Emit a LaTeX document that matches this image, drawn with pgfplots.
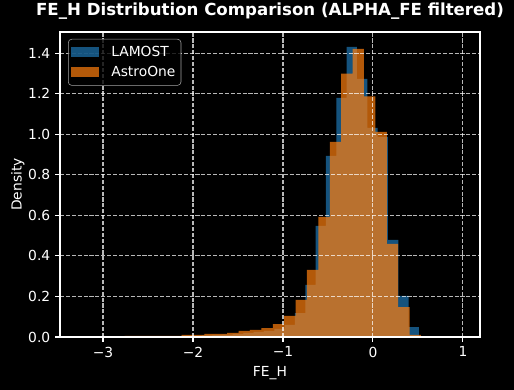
\documentclass[border=0pt]{standalone}
\usepackage{fontspec}
\setmainfont{DejaVu Sans}
\usepackage{pgfplots}
\pgfplotsset{compat=1.18}
\definecolor{C0}{RGB}{31,119,180}
\definecolor{C1}{RGB}{255,127,14}
\definecolor{legframe}{RGB}{204,204,204}
\begin{document}
\begin{tikzpicture}
\fill[black] (0bp,0bp) rectangle (370.08bp,280.8bp);
\path[use as bounding box] (0bp,0bp) rectangle (370.08bp,280.8bp);
\begin{axis}[
  at={(43.2bp,38.16bp)}, anchor=south west,
  scale only axis, width=302.4bp, height=219.6bp,
  xmin=-3.478, xmax=1.19, ymin=0, ymax=1.505,
  axis on top,
  axis line style={white, line width=0.8bp},
  tick style={white, line width=0.8bp},
  tick align=outside, major tick length=3.5bp,
  xtick pos=bottom, ytick pos=left,
  xtick={-3,-2,-1,0,1}, xticklabels={−3,−2,−1,0,1},
  ytick={0,0.2,0.4,0.6,0.8,1.0,1.2,1.4},
  yticklabels={0.0,0.2,0.4,0.6,0.8,1.0,1.2,1.4},
  ticklabel style={text=white, font=\fontsize{10}{12}\selectfont},
  grid=major,
  major grid style={white, opacity=0.72, line width=0.8bp, dash pattern=on 2.96bp off 1.28bp},
  title={\bfseries FE\_H Distribution Comparison (ALPHA\_FE filtered)},
  title style={at={(axis description cs:0.5,1)}, anchor=base, yshift=5.76bp, text=white, font=\fontsize{12}{14}\selectfont},
  xlabel={FE\_H},
  xlabel style={at={(axis description cs:0.5,0)}, anchor=base, yshift=-28.6bp, text=white, font=\fontsize{10}{12}\selectfont},
  ylabel={Density},
  ylabel style={at={(axis description cs:0,0.5)}, anchor=base, yshift=27.7bp, text=white, font=\fontsize{10}{12}\selectfont},
  legend style={at={(axis description cs:0,1)}, anchor=north west, xshift=5.76bp, yshift=-5bp,
    fill=black, fill opacity=0.8, draw opacity=0.8, text opacity=1, draw=legframe,
    rounded corners=2.5bp, text=white, font=\fontsize{10}{12}\selectfont,
    inner xsep=2bp, inner ysep=3bp, row sep=1.5bp},
  legend cell align=left,
  legend image code/.code={\path[#1, draw=none, sharp corners] (0bp,-3.5bp) rectangle (20bp,3.5bp);
    \path[draw=none, fill=none] (0bp,0bp) -- (27bp,0bp);},
]
% LAMOST
\addplot[const plot, fill=C0, fill opacity=0.7, draw=none] coordinates {
(-3.2774,0.0005) (-3.1626,0.0005) (-3.0478,0.0005) (-2.9330,0.001) (-2.8182,0.001)
(-2.7034,0.002) (-2.5886,0.002) (-2.4738,0.003) (-2.3590,0.003) (-2.2442,0.004)
(-2.1294,0.005) (-2.0146,0.006) (-1.8998,0.008) (-1.7850,0.010) (-1.6702,0.012)
(-1.5554,0.015) (-1.4406,0.020) (-1.3258,0.025) (-1.2110,0.030) (-1.0962,0.040)
(-0.9814,0.060) (-0.8666,0.118) (-0.7518,0.257) (-0.6370,0.548) (-0.5222,0.894)
(-0.4074,1.180) (-0.2926,1.432) (-0.1778,1.274) (-0.0630,1.032) (0.0518,0.988)
(0.1666,0.479) (0.2814,0.2025) (0.3962,0.049) (0.5110,0.049)
} \closedcycle;
\addlegendentry{LAMOST}
% AstroOne
\addplot[const plot, fill=C1, fill opacity=0.7, draw=none] coordinates {
(-2.7600,0.006) (-2.6333,0.006) (-2.5066,0.006) (-2.3799,0.006) (-2.2532,0.006)
(-2.1265,0.011) (-1.9998,0.011) (-1.8731,0.015) (-1.7464,0.016) (-1.6197,0.020)
(-1.4930,0.030) (-1.3663,0.035) (-1.2396,0.044) (-1.1129,0.064) (-0.9862,0.104)
(-0.8595,0.183) (-0.7328,0.331) (-0.6061,0.593) (-0.4794,0.963) (-0.3527,1.299)
(-0.2260,1.422) (-0.0993,1.187) (0.0274,1.012) (0.1541,0.459) (0.2808,0.148)
(0.4075,0.010) (0.5342,0.010)
} \closedcycle;
\addlegendentry{AstroOne}
\end{axis}
\end{tikzpicture}
\end{document}
